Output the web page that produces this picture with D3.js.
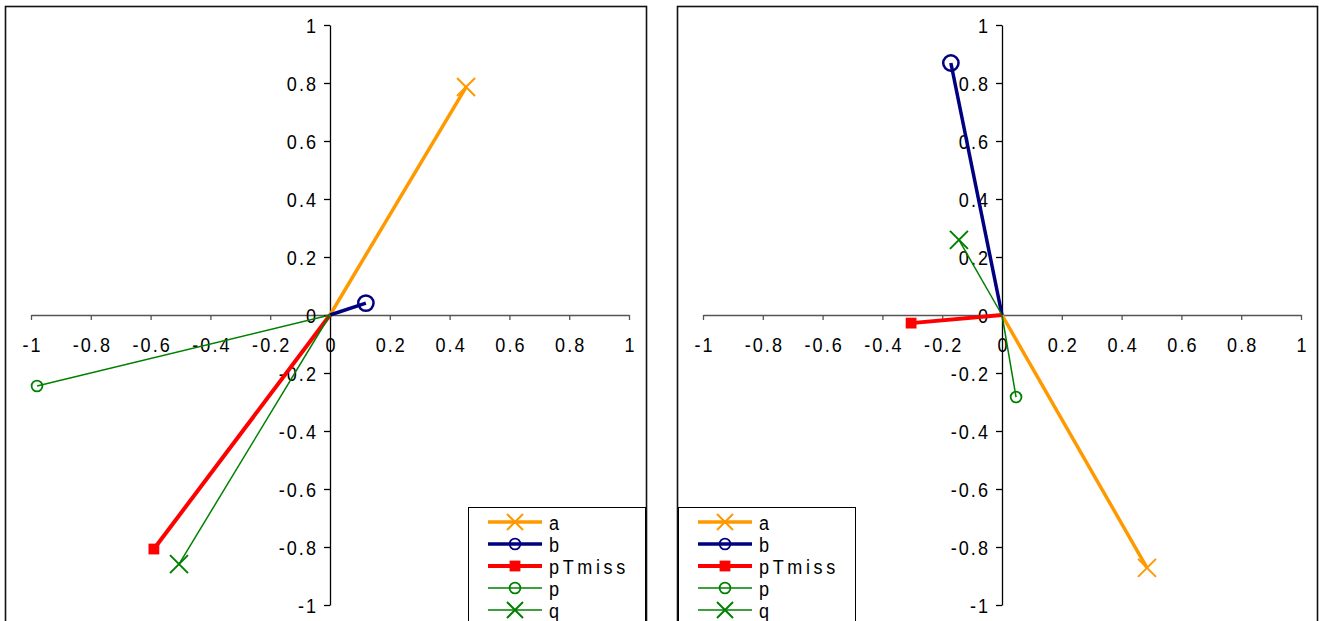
<!DOCTYPE html>
<html>
<head>
<meta charset="utf-8">
<script src="https://cdn.jsdelivr.net/npm/d3@7"></script>
<style>
  html, body { margin: 0; padding: 0; background: #fff; }
  svg { display: block; font-family: "Liberation Sans", Arial, sans-serif; }
</style>
</head>
<body>
<svg id="chart" width="1319" height="621"></svg>
<script>
// Series names and styles (legend order)
const seriesNames = ["a", "b", "pTmiss", "p", "q"];
const seriesColors = ["#FF9900", "#000080", "#FF0000", "#008000", "#008000"];
const seriesWidths = [3.5, 3.5, 4, 1.5, 1.5];
const seriesMarkers = ["cross", "circleBig", "square", "circle", "cross"];

// End points of each vector (start is the origin), left panel
const leftX = [0.455, 0.12, -0.589, -0.98, -0.505];
const leftY = [0.786, 0.041, -0.807, -0.245, -0.859];

// End points of each vector, right panel
const rightX = [0.485, -0.171, -0.304, 0.047, -0.144];
const rightY = [-0.872, 0.869, -0.028, -0.283, 0.259];

// Axis ticks
const tickValues = [-1, -0.8, -0.6, -0.4, -0.2, 0, 0.2, 0.4, 0.6, 0.8, 1];

// Text look: slightly condensed glyphs with open spacing
const FONT = 21;
const SQUEEZE = 0.86;
const TICK_SPACING = 2.4;
const LEGEND_SPACING = 4.2;
const svg = d3.select("#chart");

function drawMarker(g, type, cx, cy, color, size) {
  if (type === "cross") {
    const s = size;
    g.append("path")
      .attr("d", `M${cx - s},${cy - s}L${cx + s},${cy + s}M${cx - s},${cy + s}L${cx + s},${cy - s}`)
      .attr("stroke", color).attr("stroke-width", 2).attr("fill", "none");
  } else if (type === "circleBig") {
    g.append("circle").attr("cx", cx).attr("cy", cy).attr("r", size * 0.85)
      .attr("stroke", color).attr("stroke-width", 2.5).attr("fill", "none");
  } else if (type === "circle") {
    g.append("circle").attr("cx", cx).attr("cy", cy).attr("r", size * 0.6)
      .attr("stroke", color).attr("stroke-width", 1.8).attr("fill", "none");
  } else if (type === "square") {
    const s = size * 0.6;
    g.append("rect").attr("x", cx - s).attr("y", cy - s).attr("width", 2 * s).attr("height", 2 * s)
      .attr("fill", color);
  }
}

function panel(opts) {
  const { frameX0, frameX1, originX, xs, ys, legendX } = opts;
  const g = svg.append("g");

  // Chart frame
  g.append("rect")
    .attr("x", frameX0).attr("y", 6.5)
    .attr("width", frameX1 - frameX0).attr("height", 640)
    .attr("fill", "#fff").attr("stroke", "#111").attr("stroke-width", 1.6);

  const x = d3.scaleLinear().domain([-1, 1]).range([originX - 299, originX + 299]);
  const y = d3.scaleLinear().domain([-1, 1]).range([605, 25]);

  // X axis through y=0, ticks downward
  const xAxis = d3.axisBottom(x).tickValues(tickValues).tickSize(5).tickSizeOuter(0)
    .tickFormat(d => String(+d.toFixed(1)));
  const gx = g.append("g").attr("transform", `translate(0,${y(0)})`).call(xAxis);
  gx.attr("font-size", FONT).attr("font-family", "Liberation Sans, Arial, sans-serif");
  gx.select(".domain").attr("stroke", "#555").attr("stroke-width", 1.3);
  gx.selectAll(".tick line").attr("stroke", "#555").attr("stroke-width", 1.3);
  gx.selectAll(".tick text").attr("font-size", FONT).attr("fill", "#000")
    .attr("letter-spacing", TICK_SPACING)
    .attr("transform", `scale(${SQUEEZE},1)`)
    .attr("x", TICK_SPACING / 2).attr("y", 22.5).attr("dy", "0.71em");

  // Y axis through x=0, ticks leftward
  const yAxis = d3.axisLeft(y).tickValues(tickValues).tickSize(6).tickSizeOuter(0)
    .tickFormat(d => String(+d.toFixed(1)));
  const gy = g.append("g").attr("transform", `translate(${x(0)},0)`).call(yAxis);
  gy.attr("font-size", FONT).attr("font-family", "Liberation Sans, Arial, sans-serif");
  gy.select(".domain").attr("stroke", "#000").attr("stroke-width", 1.3);
  gy.selectAll(".tick line").attr("stroke", "#000").attr("stroke-width", 1.3);
  gy.selectAll(".tick text").attr("font-size", FONT).attr("fill", "#000")
    .attr("letter-spacing", TICK_SPACING)
    .attr("transform", `scale(${SQUEEZE},1)`)
    .attr("x", (-14) / SQUEEZE + TICK_SPACING).attr("dy", "0.36em");

  // Vectors from origin
  seriesNames.forEach((name, i) => {
    g.append("path")
      .attr("d", d3.line()([[x(0), y(0)], [x(xs[i]), y(ys[i])]]))
      .attr("stroke", seriesColors[i]).attr("stroke-width", seriesWidths[i]).attr("fill", "none");
  });
  seriesNames.forEach((name, i) => {
    drawMarker(g, seriesMarkers[i], x(xs[i]), y(ys[i]), seriesColors[i], 9);
  });

  // Legend
  const lg = g.append("g");
  lg.append("rect").attr("x", legendX + 0.5).attr("y", 507.5).attr("width", 177).attr("height", 130)
    .attr("fill", "#fff").attr("stroke", "#000").attr("stroke-width", 1);
  seriesNames.forEach((name, i) => {
    const cy = 522 + i * 22;
    lg.append("line").attr("x1", legendX + 20).attr("x2", legendX + 74)
      .attr("y1", cy).attr("y2", cy)
      .attr("stroke", seriesColors[i]).attr("stroke-width", seriesWidths[i]);
    const mt = seriesMarkers[i] === "circleBig" ? "circle" : seriesMarkers[i];
    drawMarker(lg, mt, legendX + 47, cy, seriesColors[i], seriesMarkers[i] === "cross" ? 8 : 9);
    lg.append("g").attr("transform", `translate(${legendX + 81},${cy})`)
      .append("text").attr("transform", `scale(${SQUEEZE},1)`)
      .attr("dy", "0.36em")
      .attr("font-size", FONT).attr("letter-spacing", LEGEND_SPACING)
      .attr("fill", "#000").text(name);
  });
}

panel({ frameX0: 5.5, frameX1: 646.5, originX: 330, xs: leftX, ys: leftY, legendX: 468 });
panel({ frameX0: 677.5, frameX1: 1317.5, originX: 1002, xs: rightX, ys: rightY, legendX: 678 });
</script>
</body>
</html>
